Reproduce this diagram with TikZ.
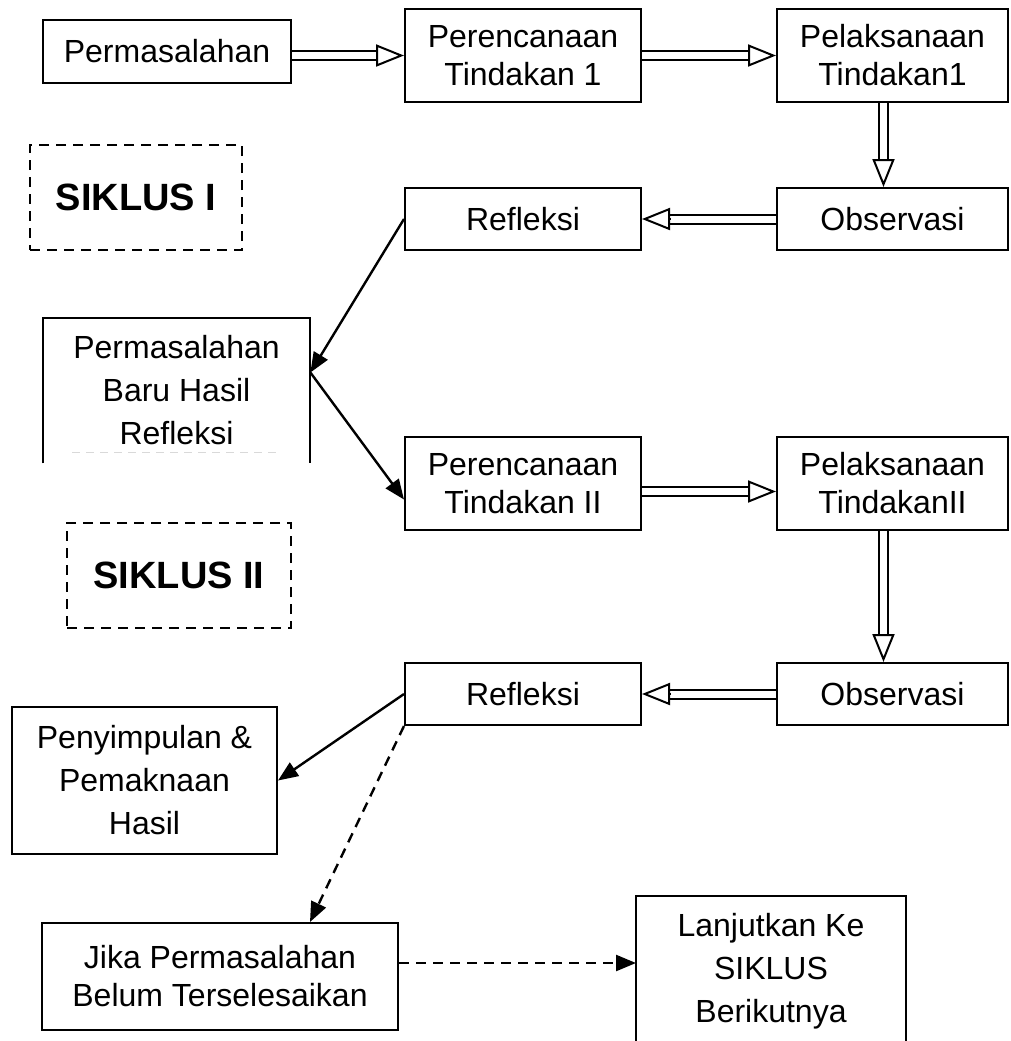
\documentclass[tikz,border=0pt]{standalone}
\usepackage{fontspec}
\setmainfont{Liberation Sans}
\usetikzlibrary{arrows.meta,calc}

\tikzset{
  box/.style={draw, line width=1pt, align=center, inner sep=2pt,
    font=\fontsize{16}{19}\selectfont},
  openbox/.style={align=center, inner sep=2pt,
    font=\fontsize{16}{21.5}\selectfont},
  siklusbox/.style={draw, line width=1.2pt, dash pattern=on 5pt off 3.5pt,
    font=\fontsize{19}{22}\selectfont\bfseries},
  dblshaft/.style={line width=1pt, double, double distance=3.5pt},
  dbltip/.style={line width=1pt, -{Triangle[open,length=14pt,width=11pt]}},
  solidarrow/.style={line width=1.2pt, -{Triangle[length=10pt,width=8pt]}},
  dasharrow/.style={line width=1.2pt, dash pattern=on 5pt off 3.5pt,
    -{Triangle[length=10pt,width=8pt]}}
}
\newcommand{\dblarrow}[2]{%
  \draw[dblshaft] (#1) -- ($(#2)!14pt!(#1)$);
  \draw[dbltip] ($(#2)!14pt!(#1)$) -- (#2);
}

\begin{document}
\begin{tikzpicture}[x=0.5pt,y=-0.5pt]
\useasboundingbox (0,0) rectangle (1011,1041);
% siklus I
\node[box, minimum width=124pt, minimum height=31.5pt] (perm) at (167,51.5) {Permasalahan};
\node[box, minimum width=118pt, minimum height=46.5pt] (ren1) at (523,55.5) {Perencanaan\\Tindakan 1};
\node[box, minimum width=115.5pt, minimum height=46.5pt] (pel1) at (892.5,55.5) {Pelaksanaan\\Tindakan1};
\node[box, minimum width=115.5pt, minimum height=31pt] (obs1) at (892.5,219) {Observasi};
\node[box, minimum width=118pt, minimum height=31pt] (ref1) at (523,219) {Refleksi};
\node[siklusbox, minimum width=106pt, minimum height=52.5pt] (sik1) at (136,197.5) {SIKLUS I};
% permasalahan baru (open at the bottom)
\node[openbox, minimum width=133.5pt, minimum height=72.5pt] (baru) at (176.5,390.5) {Permasalahan\\Baru Hasil\\Refleksi};
\draw[line width=1pt] (baru.south west) -- (baru.north west) -- (baru.north east) -- (baru.south east);
\draw[gray!30, line width=0.5pt, dash pattern=on 4pt off 3pt] (72,452) -- (280,452);
% siklus II
\node[box, minimum width=118pt, minimum height=46.5pt] (ren2) at (523,483.5) {Perencanaan\\Tindakan II};
\node[box, minimum width=115.5pt, minimum height=46.5pt] (pel2) at (892.5,483.5) {Pelaksanaan\\TindakanII};
\node[box, minimum width=115.5pt, minimum height=31pt] (obs2) at (892.5,694) {Observasi};
\node[box, minimum width=118pt, minimum height=31pt] (ref2) at (523,694) {Refleksi};
\node[siklusbox, minimum width=112pt, minimum height=52.5pt] (sik2) at (179,575.5) {SIKLUS II};
\node[box, minimum width=132.5pt, minimum height=73.5pt,
  font=\fontsize{16}{21.5}\selectfont] (peny) at (144.5,780.5) {Penyimpulan \&\\Pemaknaan\\Hasil};
\node[box, minimum width=178pt, minimum height=53.5pt] (jika) at (220,976.5) {Jika Permasalahan\\Belum Terselesaikan};
% lanjutkan (runs off the page)
\node[openbox, minimum width=135pt, minimum height=75pt] (lanj) at (771,971) {Lanjutkan Ke\\SIKLUS\\Berikutnya};
\draw[line width=1pt] (lanj.south west) -- (lanj.north west) -- (lanj.north east) -- (lanj.south east);
\coordinate (lanjin) at (636,963);
% arrows
\dblarrow{perm.east |- ren1.west}{ren1.west}
\dblarrow{ren1.east}{pel1.west}
\dblarrow{[xshift=-4.5pt]pel1.south}{[xshift=-4.5pt]obs1.north}
\dblarrow{obs1.west}{ref1.east}
\draw[solidarrow] (ref1.west) -- ([yshift=9pt]baru.east);
\draw[solidarrow] ([yshift=9pt]baru.east) -- ([yshift=-8pt]ren2.west);
\dblarrow{[yshift=-4pt]ren2.east}{[yshift=-4pt]pel2.west}
\dblarrow{[xshift=-4.5pt]pel2.south}{[xshift=-4.5pt]obs2.north}
\dblarrow{obs2.west}{ref2.east}
\draw[solidarrow] (ref2.west) -- (peny.east);
\draw[dasharrow] (ref2.south west) -- ([xshift=45pt]jika.north);
\draw[dasharrow] (jika.east |- lanjin) -- (lanjin);
\end{tikzpicture}
\end{document}
